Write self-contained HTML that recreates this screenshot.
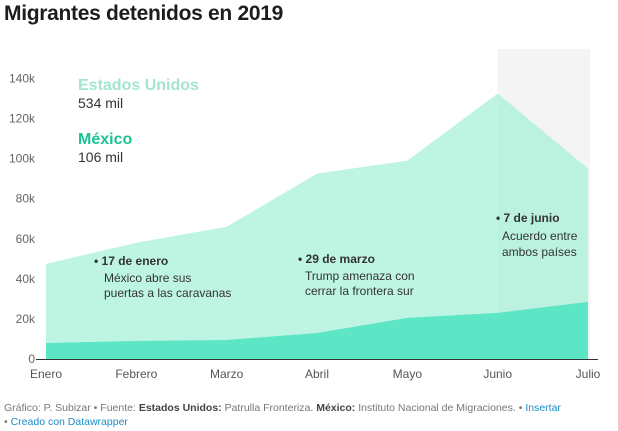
<!DOCTYPE html>
<html><head><meta charset="utf-8">
<style>
body{margin:0;background:#fff;font-family:"Liberation Sans",Arial,sans-serif;}
#wrap{position:relative;width:618px;height:431px;overflow:hidden;}
h1{position:absolute;left:4px;top:2px;margin:0;font-size:21px;font-weight:bold;color:#1d1d1d;letter-spacing:-0.3px}
.foot{position:absolute;left:4px;font-size:10.5px;color:#777;}
.foot b{color:#444}
.foot a{color:#1a8cc4;text-decoration:none}
</style></head><body>
<div id="wrap">
<h1>Migrantes detenidos en 2019</h1>
<svg id="chart" width="618" height="431" style="position:absolute;left:0;top:0"></svg>
<div class="foot" style="top:402px">Gráfico: P. Subizar • Fuente: <b>Estados Unidos:</b> Patrulla Fronteriza. <b>México:</b> Instituto Nacional de Migraciones. • <a>Insertar</a></div>
<div class="foot" style="top:416px">• <a>Creado con Datawrapper</a></div>
</div>
<script>
const months = ["Enero","Febrero","Marzo","Abril","Mayo","Junio","Julio"];
const usValues = [47.5, 58, 66, 92.5, 99, 132.5, 95];
const mxValues = [8, 9, 9.5, 13, 20.5, 23, 28.5];
const yTicks = [0,20,40,60,80,100,120,140];
const yTickLabels = ["0","20k","40k","60k","80k","100k","120k","140k"];

const NS="http://www.w3.org/2000/svg";
const svg=document.getElementById('chart');
const x0=46,x1=588,yb=359,yt=78.5;
const xs=i=>x0+(x1-x0)*i/(months.length-1);
const ys=v=>yb-(yb-yt)*v/140;
function mk(t,a){const e=document.createElementNS(NS,t);for(const k in a)e.setAttribute(k,a[k]);svg.appendChild(e);return e;}

// highlight band Junio-Julio
let r=mk('rect',{x:xs(5),y:49,width:xs(6)-xs(5)+2,height:yb-49,fill:'#f4f4f4'});



yTicks.forEach((v,i)=>{
  const t=mk('text',{x:35,y:ys(v)+4,'text-anchor':'end','font-size':'12',fill:'#666','font-family':'Liberation Sans, sans-serif'});
  t.textContent=yTickLabels[i];
  
  
});

function area(vals,color,name){
  let d='M'+xs(0)+','+yb;
  vals.forEach((v,i)=>d+=' L'+xs(i)+','+ys(v));
  d+=' L'+xs(vals.length-1)+','+yb+' Z';
  const p=mk('path',{d:d,fill:color});
  
  
}
area(usValues,'rgba(165,240,215,0.72)','area-estados-unidos');
area(mxValues,'#5de6c5','area-mexico');

let ax=mk('line',{x1:36,x2:598,y1:yb+0.5,y2:yb+0.5,stroke:'#333','stroke-width':1});



months.forEach((m,i)=>{
  const t=mk('text',{x:xs(i),y:378,'text-anchor':'middle','font-size':'12',fill:'#555','font-family':'Liberation Sans, sans-serif'});
  t.textContent=m;
  
  
});

function txt(x,y,s,size,color,weight,name){
  const t=mk('text',{x:x,y:y,'font-size':size,fill:color,'font-weight':weight||'normal','font-family':'Liberation Sans, sans-serif'});
  t.textContent=s;
  
  
}
txt(78,90,'Estados Unidos',16,'#a3e6cf','bold','legend-us-label');
txt(78,108,'534 mil',14,'#333','normal','legend-us-value');
txt(78,144,'México',16,'#1cc394','bold','legend-mexico-label');
txt(78,162,'106 mil',14,'#333','normal','legend-mexico-value');

txt(94,265,'• 17 de enero',12,'#333','bold','annotation-enero-title');
txt(104,282,'México abre sus',12,'#333','normal','annotation-enero-text');
txt(104,297,'puertas a las caravanas',12,'#333','normal','annotation-enero-text2');
txt(298,263,'• 29 de marzo',12,'#333','bold','annotation-marzo-title');
txt(305,280,'Trump amenaza con',12,'#333','normal','annotation-marzo-text');
txt(305,295,'cerrar la frontera sur',12,'#333','normal','annotation-marzo-text2');
txt(496,222,'• 7 de junio',12,'#333','bold','annotation-junio-title');
txt(502,240,'Acuerdo entre',12,'#333','normal','annotation-junio-text');
txt(502,256,'ambos países',12,'#333','normal','annotation-junio-text2');
</script>
</body></html>
